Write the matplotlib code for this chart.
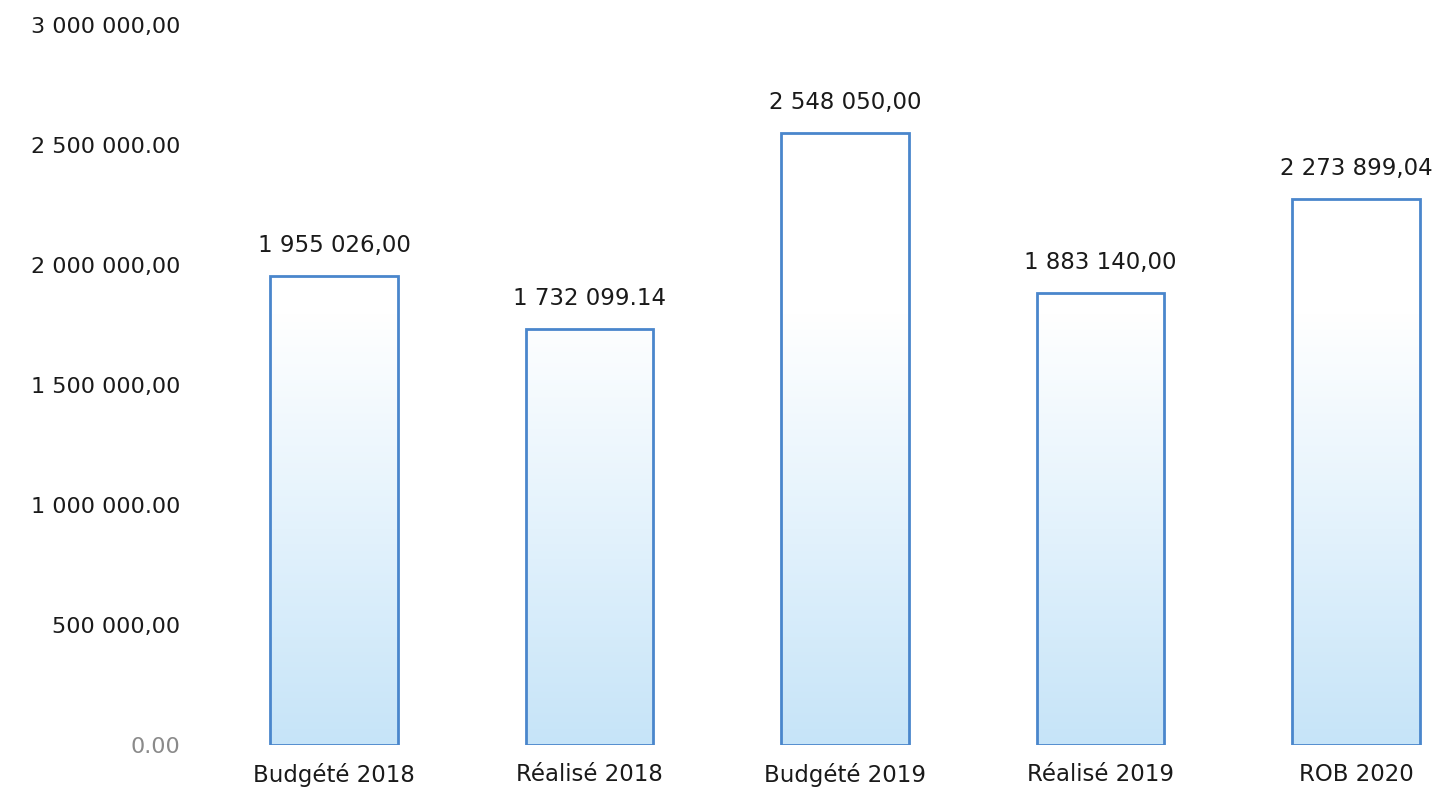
import matplotlib.pyplot as plt
import numpy as np
from matplotlib.colors import LinearSegmentedColormap

# Data
categories = ['Budgété 2018', 'Réalisé 2018', 'Budgété 2019', 'Réalisé 2019', 'ROB 2020']
values = [1955026.00, 1732099.14, 2548050.00, 1883140.00, 2273899.04]
value_labels = ['1 955 026,00', '1 732 099.14', '2 548 050,00', '1 883 140,00', '2 273 899,04']
y_ticks = [0, 500000, 1000000, 1500000, 2000000, 2500000, 3000000]
y_tick_labels = ['0.00', '500 000,00', '1 000 000.00', '1 500 000,00',
                 '2 000 000,00', '2 500 000.00', '3 000 000,00']

W, H = 1445, 792
fig = plt.figure(figsize=(W / 100, H / 100), dpi=100)
# axes placed in pixel terms: left 230, right 1440, bottom y=745, top y=25
ax = fig.add_axes([230 / W, (H - 745) / H, (1440 - 230) / W, (745 - 25) / H])

x = np.arange(len(categories))
bars = ax.bar(x, values, width=0.5, facecolor='none', edgecolor='#4a86cc', linewidth=2, zorder=3)

ax.set_xlim((230 - 334) / 255.5, (1440 - 334) / 255.5)
ax.set_ylim(0, 3000000)

# gradient fill: light blue at the bottom fading to white higher up
cmap = LinearSegmentedColormap.from_list('fade', ['#c6e4f8', '#e3f2fc', '#ffffff'])
grad = np.linspace(0, 1, 256).reshape(-1, 1)
for b in bars:
    img = ax.imshow(grad, cmap=cmap, aspect='auto', origin='lower',
                    extent=[b.get_x(), b.get_x() + b.get_width(), 0, 1800000], zorder=2)
    img.set_clip_path(b)

for xi, v, lab in zip(x, values, value_labels):
    ax.text(xi, v + 80000, lab, ha='center', va='bottom', fontsize=16.5,
            color='#1a1a1a', family='DejaVu Sans')

ax.set_xticks(x)
ax.set_xticklabels(categories, fontsize=16.5, color='#1a1a1a', family='DejaVu Sans')
ax.set_yticks(y_ticks)
ax.set_yticklabels(y_tick_labels, fontsize=16, color='#1a1a1a', family='DejaVu Sans')
ax.get_yticklabels()[0].set_color('#8a8a8a')
ax.tick_params(axis='both', length=0)
ax.tick_params(axis='y', pad=36)
ax.tick_params(axis='x', pad=13)
for s in ax.spines.values():
    s.set_visible(False)

fig.savefig('out.png', dpi=100, facecolor='white')
